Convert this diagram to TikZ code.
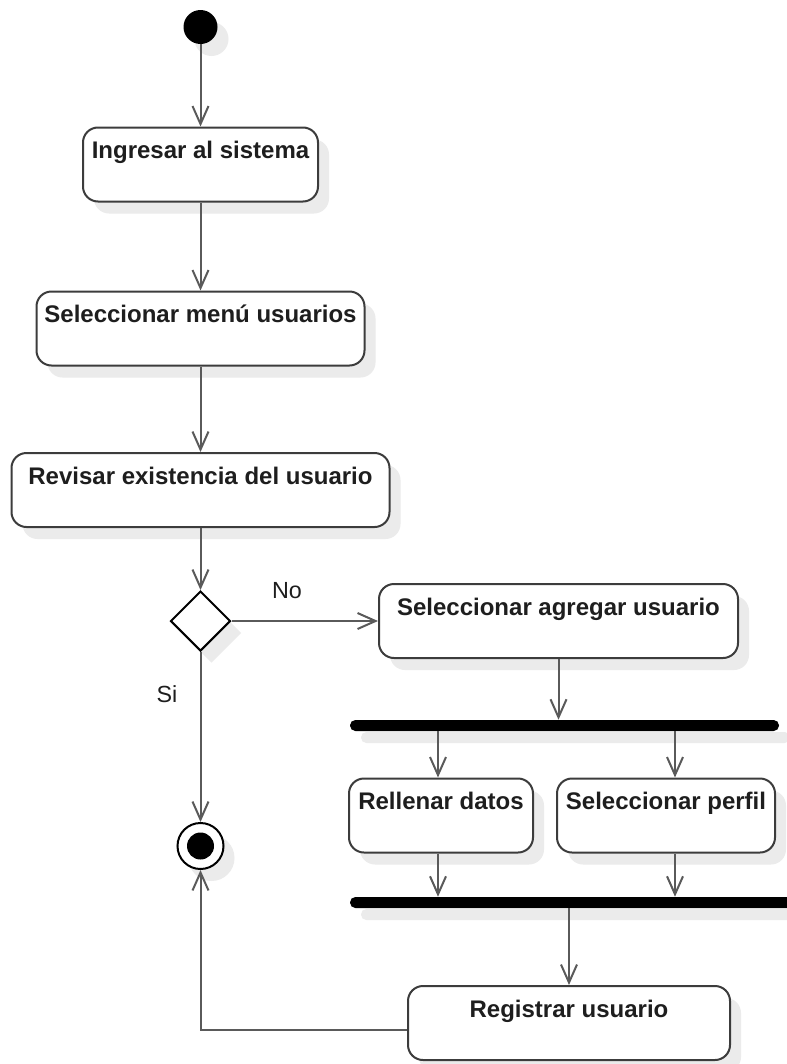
\documentclass[tikz,border=0pt]{standalone}
\usepackage{fontspec}
\setmainfont{Liberation Sans}
\usetikzlibrary{arrows.meta,shapes.geometric,shadows,calc}
\definecolor{ln}{HTML}{5A5A5A}
\definecolor{bd}{HTML}{3C3C3C}
\definecolor{tx}{HTML}{1E1E1E}
\definecolor{sh}{HTML}{EBEBEB}
\begin{document}
\begin{tikzpicture}[x=0.75pt,y=-0.75pt,
  shd/.style={drop shadow={shadow xshift=8.25pt,shadow yshift=-9pt,fill=sh,opacity=1}},
  act/.style={shd, draw=bd, line width=1.5pt, fill=white, rounded corners=11.25pt,
    inner sep=0pt, text height=23.25pt, text depth=32.25pt, text=tx,
    font=\bfseries\fontsize{18}{21}\selectfont},
  conn/.style={draw=ln, line width=1.5pt, -{Straight Barb[length=13.5pt,width=12pt]}},
  bar/.style={shd, fill=black, rounded corners=4pt, inner sep=0pt, minimum height=8.25pt},
  lbl/.style={anchor=base, text=tx, font=\fontsize{17.5}{20}\selectfont}
]
\clip (0,0) rectangle (787,1064);
\fill[white] (0,0) rectangle (787,1064);

% nodes
\node[shd, circle, fill=black, inner sep=0pt, minimum size=34*0.75pt] (start) at (200.5,27) {};
\node[act, minimum width=235*0.75pt] (b1) at (200.5,164.5) {Ingresar al sistema};
\node[act, minimum width=328*0.75pt] (b2) at (200.5,328.5) {Seleccionar menú usuarios};
\node[act, minimum width=378*0.75pt] (b3) at (200.5,490) {Revisar existencia del usuario};
\node[shd, diamond, draw=black, line width=1.5pt, fill=white, inner sep=0pt,
      aspect=1, minimum size=60*0.75pt] (dec) at (200.5,621) {};
\node[act, minimum width=359*0.75pt] (b4) at (558.5,621) {Seleccionar agregar usuario};
\node[bar, minimum width=429*0.75pt] (f1) at (564.5,725.5) {};
\node[act, minimum width=184*0.75pt] (rd) at (441,815.5) {Rellenar datos};
\node[act, minimum width=218*0.75pt] (sp) at (666,815.5) {Seleccionar perfil};
\node[bar, minimum width=450*0.75pt] (f2) at (575,902.5) {};
\node[act, minimum width=322*0.75pt] (reg) at (569,1023) {Registrar usuario};
\node[shd, circle, draw=black, line width=1.5pt, fill=white, inner sep=0pt,
      minimum size=46*0.75pt] (fin) at (200.5,846) {};
\node[circle, fill=black, inner sep=0pt, minimum size=27*0.75pt] (fincore) at (fin.center) {};

\node[lbl] (lno) at (287,598) {No};
\node[lbl] (lsi) at (167,702) {Si};

\coordinate (rdx) at ($(rd.north)+(-3,0)$);
\coordinate (spx) at ($(sp.north)+(9,0)$);
\coordinate (ret) at ($(reg.west)+(0,7)$);

% connectors
\draw[conn] (start.south) -- (b1.north);
\draw[conn] (b1.south) -- (b2.north);
\draw[conn] (b2.south) -- (b3.north);
\draw[conn] (b3.south) -- (dec.north);
\draw[conn] (dec.east) -- (b4.west);
\draw[conn] (dec.south) -- (fin.north);
\draw[conn] (b4.south) -- (b4.south |- f1.north);
\draw[conn] (rdx |- f1.south) -- (rdx);
\draw[conn] (spx |- f1.south) -- (spx);
\draw[conn] (rdx |- rd.south) -- (rdx |- f2.north);
\draw[conn] (spx |- sp.south) -- (spx |- f2.north);
\draw[conn] (reg.north |- f2.south) -- (reg.north);
\draw[conn] (ret) -| (fin.south);
\end{tikzpicture}
\end{document}
